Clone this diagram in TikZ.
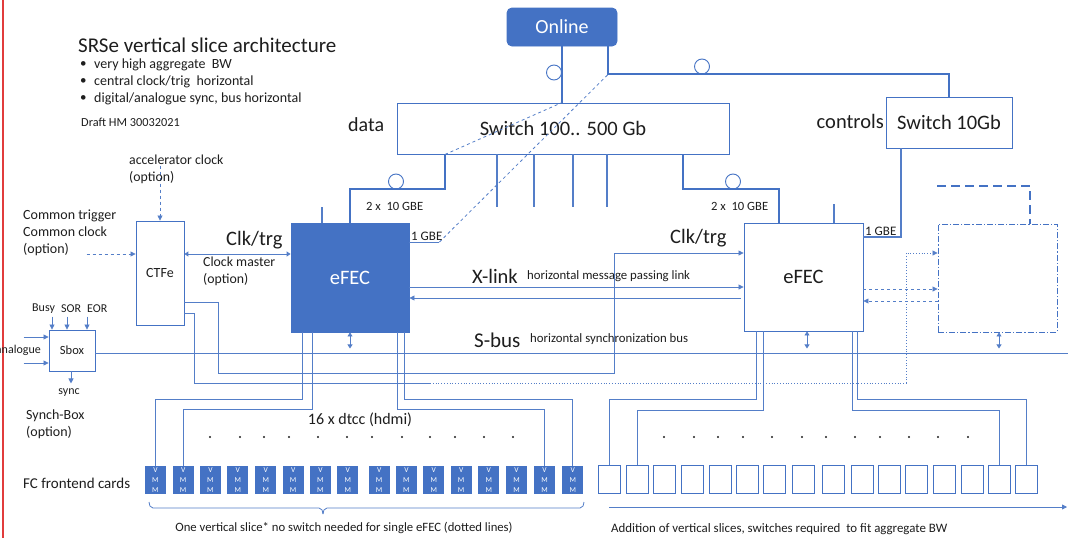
\documentclass[tikz,border=0pt]{standalone}
\usepackage{fontspec}
\setmainfont{Carlito}
\usetikzlibrary{arrows.meta}
\definecolor{ob}{RGB}{68,114,196}
\definecolor{lb}{RGB}{84,126,200}
\definecolor{tx}{RGB}{30,30,30}
\definecolor{redline}{RGB}{225,60,60}
\begin{document}
\begin{tikzpicture}[x=1pt,y=-1pt,
  txt/.style={text=tx, inner sep=0pt, anchor=west},
  fsz/.style={font=\fontsize{#1pt}{\dimexpr #1pt*6/5\relax}\selectfont},
  wbox/.style={draw=ob, line width=0.9pt, fill=white, inner sep=0pt, text=tx},
  bbox/.style={draw=ob, line width=0.9pt, fill=ob, inner sep=0pt, text=white},
  ln/.style={draw=lb, line width=0.8pt},
  bigln/.style={draw=ob, line width=2pt},
  tip/.style={-{Triangle[length=5pt,width=5pt]}},
  dtip/.style={{Triangle[length=4pt,width=5pt]}-{Triangle[length=4pt,width=5pt]}},
  loopc/.style={circle, draw=ob, line width=0.9pt, minimum size=15pt, inner sep=0pt},
  dot/.style={circle, fill=tx, minimum size=2.2pt, inner sep=0pt},
]
\useasboundingbox (0,0) rectangle (1068,538);
\fill[white] (0,0) rectangle (1068,538);
\draw[redline, line width=1.2pt] (3,0) -- (3,538);

% ---------- title block ----------
\node[txt, fsz=21] (title) at (78,45) {SRSe vertical slice architecture};
\foreach \yy/\tt [count=\i] in {65/{very high aggregate~ BW}, 82/{central clock/trig~ horizontal}, 99/{digital/analogue sync, bus horizontal}}{
  \node[txt, fsz=13] (bul\i) at (80,\yy) {•};
  \node[txt, fsz=14] (bt\i) at (94,\yy) {\tt};
}
\node[txt, fsz=12.3] (draft) at (81,122) {Draft HM 30032021};

% ---------- boxes ----------
\node[bbox, rounded corners=5pt, minimum width=110pt, minimum height=38pt, fsz=20] (online) at (562,27) {Online};
\node[wbox, minimum width=332pt, minimum height=51pt, fsz=20.5] (swData) at (563,128.5) {Switch 100.. 500 Gb};
\node[wbox, minimum width=126pt, minimum height=51pt, fsz=20.5] (swCtl) at (949,122.5) {Switch 10Gb};
\node[bbox, minimum width=118pt, minimum height=109pt, fsz=20.5] (efecL) at (350,277.5) {eFEC};
\node[wbox, minimum width=119pt, minimum height=108pt, fsz=20.5] (efecR) at (803.5,277) {eFEC};
\node[wbox, minimum width=48pt, minimum height=104pt, fsz=14] (ctfe) at (160,273) {CTFe};
\node[wbox, minimum width=46pt, minimum height=41pt, fsz=12.5] (sbox) at (72,350.5) {Sbox};
\node[draw=ob, line width=0.9pt, dash pattern=on 6pt off 2pt on 1.2pt off 2pt, minimum width=119pt, minimum height=108pt, inner sep=0pt] (ghost) at (997.5,278) {};

\node[txt, fsz=20] (datal) at (348,125) {data};
\node[txt, fsz=20.5, anchor=east] (ctrll) at (884,121) {controls};

% ---------- online / switch links ----------
\draw[bigln] (online.south) -- (online.south |- swData.north);
\draw[bigln] ([xshift=46pt]online.south) -- ++(0,28) coordinate (ocorner) -| (swCtl.north);
\node[loopc] (c1) at (554,72.5) {};
\node[loopc] (c2) at (702,66.5) {};

\draw[bigln] ([xshift=-118pt]swData.south) |- ([yshift=34pt]efecL.north) -- (efecL.north);
\draw[bigln] ([xshift=120pt]swData.south) |- ([xshift=-24.5pt,yshift=34pt]efecR.north) -- ([xshift=-24.5pt]efecR.north);
\node[loopc] (c3) at (396,181.5) {};
\node[loopc] (c4) at (733,181.5) {};

\foreach \dx in {-66,-29,10,44}{
  \draw[ln, line width=1.1pt] ([xshift=\dx pt]swData.south) -- ++(0,53);
}
\draw[ln, line width=1.1pt] ([xshift=-28pt]efecL.north) -- ++(0,-16);
\draw[ln, line width=1.1pt] ([xshift=30.5pt]efecR.north) -- ++(0,-19);

\draw[ln, dashed] ([xshift=-118pt]swData.south) -- (online.south |- swData.north);
\draw[ln] ([yshift=35.5pt]efecL.east) -- ++(30,0) coordinate (g1);
\draw[ln, dashed] (g1) -- (ocorner);
\draw[ln, line width=1.1pt] ([xshift=-48pt]swCtl.south) |- ([yshift=40pt]efecR.east);

\node[txt, fsz=12.6] (gbe2l) at (366,206) {2 x~ 10 GBE};
\node[txt, fsz=12.6] (gbe2r) at (711,206) {2 x~ 10 GBE};
\node[txt, fsz=13] (gbe1l) at (411,236) {1 GBE};
\node[txt, fsz=13] (gbe1r) at (865,231) {1 GBE};

% ---------- CTFe ----------
\draw[ln, dashed, tip] ([yshift=55pt]ctfe.north) -- (ctfe.north);
\node[txt, fsz=13.8, align=left] (acc) at (129,169.5) {accelerator clock\\(option)};
\draw[ln, dashed, tip] ([xshift=-49pt,yshift=19pt]ctfe.west) -- ([yshift=19pt]ctfe.west);
\node[txt, fsz=14, align=left] (comm) at (23,233) {Common trigger\\Common clock\\(option)};
\draw[ln, line width=1pt, dtip] ([yshift=19pt]ctfe.east) -- ([yshift=19pt]ctfe.east -| efecL.west);
\node[txt, fsz=20.5] (clkl) at (226,240) {Clk/trg};
\node[txt, fsz=13.8, align=left] (cm) at (203,271.5) {Clock master\\(option)};

\draw[ln, tip] ([yshift=-29pt]ctfe.east) -| (218,373) -| (614,253) -- ([yshift=24pt]efecR.west);
\node[txt, fsz=20.5] (clkr) at (670,238) {Clk/trg};
\draw[ln] ([yshift=-40pt]ctfe.east) -| (194,383) -- (430,383) coordinate (dstart);
\draw[ln, dotted, tip] (dstart) -| (906,253) -- ([yshift=25pt]ghost.west);

% ---------- X-link ----------
\draw[ln, tip] ([yshift=-9.5pt]efecL.east) -- ([yshift=-9.5pt]efecL.east -| efecR.west);
\draw[ln, tip] ([xshift=-3pt,yshift=-21pt]efecR.west) -- ([yshift=-21pt]efecR.west -| efecL.east);
\node[txt, fsz=20.5] (xl) at (472,276) {X-link};
\node[txt, fsz=12.8] (xld) at (527,276) {horizontal message passing link};

\draw[ln, dashed, tip] ([yshift=-12pt]efecR.east) -- ([yshift=-12pt]efecR.east -| ghost.west);
\draw[ln, dashed, tip] ([yshift=-24pt]efecR.east -| ghost.west) -- ([yshift=-24pt]efecR.east);
\draw[bigln, line width=1.8pt, dash pattern=on 9pt off 5pt] (937,186) -| ([xshift=32.5pt]ghost.north);

% ---------- S-bus ----------
\draw[ln] ([yshift=-2.5pt]sbox.east) -- ++(973,0) coordinate (busend);
\draw[ln, dtip] (efecL.south) -- ++(0,16);
\draw[ln, dtip] ([xshift=3.5pt]efecR.south) -- ++(0,17);
\draw[ln, dtip] ([xshift=1.5pt]ghost.south) -- ++(0,16);
\node[txt, fsz=21] (sb) at (474,340) {S-bus};
\node[txt, fsz=12.8] (sbd) at (530,339) {horizontal synchronization bus};

% ---------- Sbox ----------
\foreach \dx in {-20,-5,15}{
  \draw[ln, tip] ([xshift=\dx pt, yshift=13pt]sbox.north) -- ([xshift=\dx pt]sbox.north);
}
\node[txt, fsz=12] (busy) at (32,309) {Busy};
\node[txt, fsz=12] (sor) at (61,309) {SOR};
\node[txt, fsz=12] (eor) at (87,309) {EOR};
\draw[ln, tip] ([xshift=-25pt,yshift=-12.5pt]sbox.west) -- ([yshift=-12.5pt]sbox.west);
\draw[ln, tip] ([xshift=-25pt,yshift=13.5pt]sbox.west) -- ([yshift=13.5pt]sbox.west);
\node[txt, fsz=12, anchor=east] (ana) at (41,350) {analogue};
\draw[ln, tip] ([xshift=-1pt]sbox.south) -- ++(0,12);
\node[txt, fsz=12, anchor=center] (sync) at (69,393) {sync};
\node[txt, fsz=14, align=left] (sbl) at (26,424) {Synch-Box\\(option)};

% ---------- front-end cards ----------
\foreach \xx [count=\i] in {145,172.7,200,227.3,255.3,282.7,310,337.3,368.7,396,423.3,450.7,478.3,506,534,562.3}{
  \node[bbox, minimum width=20pt, minimum height=27pt, anchor=north west, font=\fontsize{7.5pt}{10pt}\selectfont, align=center] (cl\i) at (\xx,466) {V\\M\\M};
}
\foreach \xx [count=\i] in {598.3,626,653.3,681,709,736,763.3,791.7,822.3,850.7,877.7,905,932.7,960.7,988.3,1015}{
  \node[wbox, minimum width=22pt, minimum height=28pt, anchor=north west] (cr\i) at (\xx,465) {};
}

\draw[ln] ([xshift=-48pt]efecL.south) |- ([yshift=67pt]cl1.north) -- (cl1.north);
\draw[ln] ([xshift=-38pt]efecL.south) |- ([yshift=57pt]cl2.north) -- (cl2.north);
\draw[ln] ([xshift=47pt]efecL.south) |- ([yshift=57pt]cl15.north) -- (cl15.north);
\draw[ln] ([xshift=54pt]efecL.south) |- ([yshift=67pt]cl16.north) -- (cl16.north);
\draw[ln] ([xshift=-47.5pt]efecR.south) |- ([yshift=66pt]cr1.north) -- (cr1.north);
\draw[ln] ([xshift=-40.5pt]efecR.south) |- ([yshift=55pt]cr2.north) -- (cr2.north);
\draw[ln] ([xshift=48.5pt]efecR.south) |- ([yshift=55pt]cr15.north) -- (cr15.north);
\draw[ln] ([xshift=53.5pt]efecR.south) |- ([yshift=66pt]cr16.north) -- (cr16.north);

\foreach \xx [count=\i] in {210,240,264,289,318,347,372,402,430,455,484,513}{
  \node[dot] (dl\i) at (\xx,437) {};
}
\foreach \xx [count=\i] in {664,694,718,743,772,802,826,855,880,909,938,968}{
  \node[dot] (dr\i) at (\xx,437) {};
}
\node[txt, fsz=16, anchor=center] (dtcc) at (360,420) {16 x dtcc (hdmi)};
\node[txt, fsz=15] (fc) at (23,483) {FC frontend cards};

\draw[ln] (149,502) to[out=-90,in=180] (153,508) -- (319,508) to[out=0,in=90] (323,514);
\draw[ln] (323,514) to[out=90,in=180] (327,508) -- (580,508) to[out=0,in=-90] (584,502);
\node[txt, fsz=12.7, anchor=center] (slice) at (344,528) {One vertical slice* no switch needed for single eFEC (dotted lines)};
\coordinate (a0) at (609,507);
\coordinate (a1) at (1067,507);
\draw[ln, tip] (a0) -- (a1);
\node[txt, fsz=12.9] (add) at (611,529) {Addition of vertical slices, switches required~ to fit aggregate BW};
\end{tikzpicture}
\end{document}
